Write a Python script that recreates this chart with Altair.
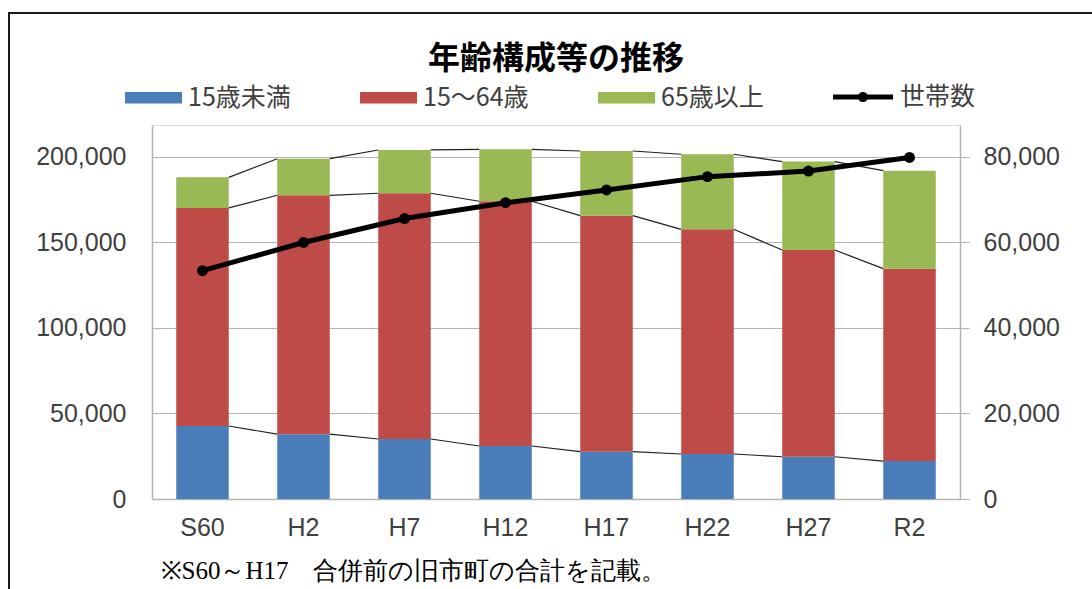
import altair as alt
import pandas as pd

categories = ["S60", "H2", "H7", "H12", "H17", "H22", "H27", "R2"]
under15 = [42700, 37900, 35100, 31000, 27700, 26300, 24700, 22200]
age15_64 = [127500, 139700, 143700, 143100, 138000, 131400, 120900, 112500]
over65 = [17900, 21400, 25300, 30400, 37800, 43900, 51700, 57300]
households = [53400, 60000, 65600, 69300, 72300, 75400, 76700, 79900]

series_names = ["15歳未満", "15～64歳", "65歳以上"]
series_colors = ["#4A7EBB", "#BE4B48", "#98B954"]
line_name = "世帯数"
title_text = "年齢構成等の推移"
note_text = "※S60～H17　合併前の旧市町の合計を記載。"

left_ticks = [0, 50000, 100000, 150000, 200000]
right_ticks = [0, 20000, 40000, 60000, 80000]

# stacked table
rows = []
for i, c in enumerate(categories):
    base = 0
    for name, vals in zip(series_names, [under15, age15_64, over65]):
        rows.append({"cat": c, "series": name, "y0": base, "y1": base + vals[i]})
        base += vals[i]
bars_df = pd.DataFrame(rows)

# connector lines between bar segment tops
conn = []
for name in series_names:
    tops = bars_df[bars_df.series == name]["y1"].tolist()
    for i in range(len(categories) - 1):
        conn.append({"a": categories[i], "b": categories[i + 1], "ya": tops[i], "yb": tops[i + 1]})
conn_df = pd.DataFrame(conn)

hh_df = pd.DataFrame({"cat": categories, "hh": households, "s": [line_name] * len(categories)})

W, H = 808, 374
LEFT, TOP = 152, 125
left_max = 218700
right_max = 87480

xscale = alt.Scale(domain=categories, paddingInner=0.48, paddingOuter=0.24)
yleft = alt.Scale(domain=[0, left_max], nice=False, zero=True)
yright = alt.Scale(domain=[0, right_max], nice=False, zero=True)

axis_font = "Liberation Sans"
label_color = "#404040"
grid_color = "#B4B4B4"

bars = alt.Chart(bars_df).mark_bar().encode(
    x=alt.X("cat:N", scale=xscale, sort=categories,
            axis=alt.Axis(title=note_text, labelAngle=0, ticks=False, labelPadding=16,
                          labelFont=axis_font, labelFontSize=25, labelColor=label_color,
                          domainColor=grid_color, domainWidth=1.5,
                          titleFont="Liberation Serif", titleFontSize=25, titleFontWeight="normal",
                          titleColor="#000000", titleAlign="left", titleAnchor="start",
                          titleX=8, titleY=79, titleBaseline="alphabetic")),
    y=alt.Y("y1:Q", scale=yleft,
            axis=alt.Axis(title=None, values=left_ticks, format=",d", ticks=False,
                          labelPadding=26, labelFont=axis_font, labelFontSize=25,
                          labelColor=label_color, grid=True, gridColor=grid_color,
                          gridWidth=1.2, domainColor=grid_color, domainWidth=1.5)),
    y2="y0:Q",
    color=alt.Color("series:N", scale=alt.Scale(domain=series_names, range=series_colors),
                    legend=alt.Legend(title=None, orient="none", direction="horizontal",
                                      legendX=-27, legendY=-56, padding=0,
                                      symbolType="M-1,-0.2L1,-0.2L1,0.2L-1,0.2Z",
                                      symbolSize=3249, symbolStrokeWidth=0, symbolOpacity=1,
                                      labelFont="Noto Sans CJK JP", labelFontSize=25,
                                      labelColor=label_color, labelOffset=6,
                                      columnPadding=69, labelLimit=300)),
)

connectors = alt.Chart(conn_df).mark_rule(color="#202020", strokeWidth=1.2).encode(
    x=alt.X("a:N", scale=xscale, bandPosition=1),
    x2=alt.X2("b:N", bandPosition=0),
    y=alt.Y("ya:Q", scale=yleft),
    y2="yb:Q",
)

frame_df = pd.DataFrame({"k": [0]})
frame_top = alt.Chart(frame_df).mark_rule(color="#1A1A1A", strokeWidth=2).encode(
    x=alt.value(9 - LEFT), x2=alt.value(1092 - LEFT), y=alt.value(13 - TOP))
frame_left = alt.Chart(frame_df).mark_rule(color="#1A1A1A", strokeWidth=2).encode(
    x=alt.value(9 - LEFT), y=alt.value(12 - TOP), y2=alt.value(600 - TOP))

line = alt.Chart(hh_df).mark_line(color="#000000", strokeWidth=5).encode(
    x=alt.X("cat:N", scale=xscale, sort=categories),
    y=alt.Y("hh:Q", scale=yright,
            axis=alt.Axis(title=None, orient="right", values=right_ticks, format=",d",
                          ticks=True, tickSize=9, tickColor=grid_color, tickWidth=1.2,
                          labelPadding=14, labelFont=axis_font, labelFontSize=25,
                          labelColor=label_color, grid=False,
                          domainColor=grid_color, domainWidth=1.5)),
    stroke=alt.Stroke("s:N", scale=alt.Scale(domain=[line_name], range=["#000000"]),
                      legend=alt.Legend(title=None, orient="none", direction="horizontal",
                                        legendX=681, legendY=-58, padding=0,
                                        symbolType="M-1,-0.08L1,-0.08L1,0.08L-1,0.08Z M0.17,0A0.17,0.17 0 1 1 -0.17,0A0.17,0.17 0 1 1 0.17,0Z",
                                        symbolSize=3600, symbolFillColor="#000000",
                                        symbolStrokeWidth=0, symbolOpacity=1,
                                        labelFont="Noto Sans CJK JP", labelFontSize=25,
                                        labelColor=label_color, labelOffset=7, labelLimit=300)),
)
points = alt.Chart(hh_df).mark_circle(color="#000000", size=120, opacity=1).encode(
    x=alt.X("cat:N", scale=xscale, sort=categories),
    y=alt.Y("hh:Q", scale=yright),
)

left_layer = alt.layer(bars, connectors, frame_top, frame_left)
right_layer = alt.layer(line, points)

chart = alt.layer(left_layer, right_layer).resolve_scale(
    y="independent", color="independent", stroke="independent"
).properties(
    width=W, height=H,
    title=alt.TitleParams(title_text, font="Noto Sans CJK JP", fontSize=32, fontWeight="bold",
                          color="#000000", anchor="middle", offset=0, dy=65),
    autosize=alt.AutoSizeParams(type="none"),
    padding={"left": LEFT, "top": TOP, "right": 1092 - LEFT - W, "bottom": 589 - TOP - H},
).configure_view(stroke=None).configure(background="#FFFFFF")

chart.save("out.html", embed_options={"renderer": "svg", "actions": False})
